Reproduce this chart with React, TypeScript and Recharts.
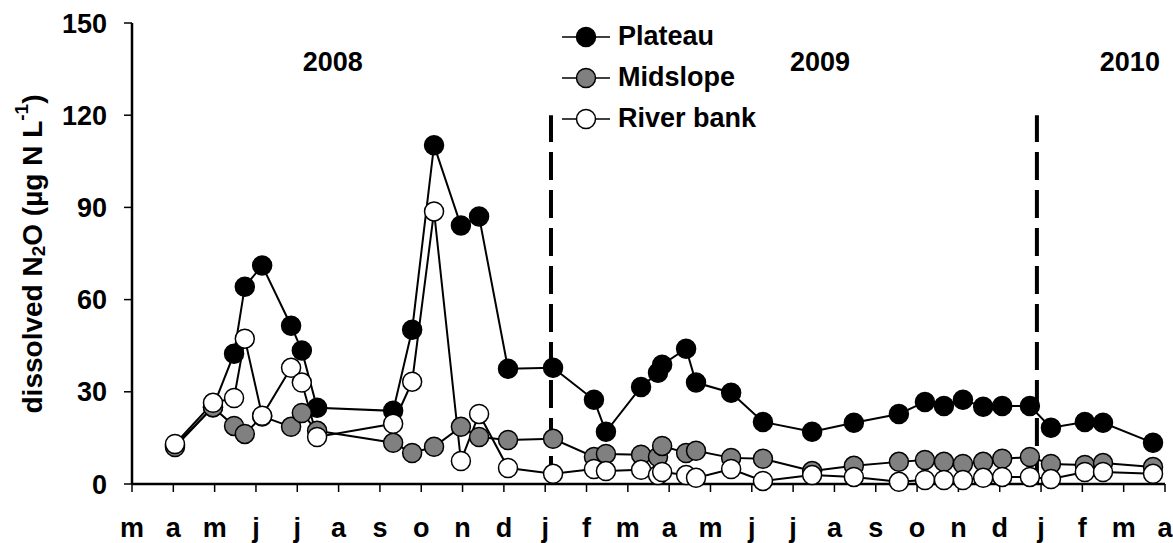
import {
  LineChart,
  Line,
  XAxis,
  YAxis,
  ReferenceLine,
  ReferenceDot,
} from "recharts"

// month labels, one per tick (mar 2008 .. apr 2010)
const MONTHS = ["m", "a", "m", "j", "j", "a", "s", "o", "n", "d", "j", "f", "m", "a", "m", "j", "j", "a", "s", "o", "n", "d", "j", "f", "m", "a"]

// sampling dates in months since 1 march 2008
const SAMPLE_MONTH = [1.04, 1.96, 2.47, 2.73, 3.15, 3.85, 4.11, 4.48, 6.32, 6.78, 7.31, 7.96, 8.4, 9.1, 10.19, 11.18, 11.47, 12.32, 12.73, 12.83, 13.41, 13.65, 14.5, 15.27, 16.46, 17.47, 18.56, 19.19, 19.65, 20.11, 20.6, 21.06, 21.73, 22.24, 23.06, 23.5, 24.71]

const PLATEAU = [12.5, 25, 42.4, 64.2, 71.1, 51.5, 43.4, 24.8, 23.8, 50.2, 110.2, 84.1, 87, 37.5, 37.8, 27.4, 17, 31.6, 36.2, 38.8, 44, 33, 29.7, 20.2, 17, 19.9, 22.8, 26.7, 25.4, 27.4, 25.1, 25.4, 25.4, 18.3, 20.2, 19.9, 13.4]
const MIDSLOPE = [12, 25, 18.9, 16.3, 22, 18.6, 23.1, 17.3, 13.4, 10.1, 12.1, 18.6, 15.3, 14.3, 14.7, 8.8, 9.8, 9.5, 8.8, 12.4, 10.1, 10.8, 8.5, 8.2, 4.2, 5.9, 7.2, 7.8, 7.2, 6.5, 7.2, 8.2, 8.8, 6.5, 6.2, 6.8, 5.5]
const RIVER_BANK = [13, 26.4, 28, 47.3, 22.2, 37.8, 33, 15.3, 19.6, 33.3, 88.7, 7.5, 22.8, 5.2, 3.3, 4.9, 4.2, 4.6, 2.9, 3.9, 2.9, 2, 4.9, 1, 2.9, 2.3, 0.7, 1.3, 1.3, 1.3, 2, 2.3, 2.3, 1.6, 3.9, 3.9, 3.3]

const Y_TICKS = [0, 30, 60, 90, 120, 150]
const YEAR_BREAKS = [10.14, 21.9]
const YEARS = ["2008", "2009", "2010"]

const data = SAMPLE_MONTH.map((m, i) => ({
  m,
  plateau: PLATEAU[i],
  midslope: MIDSLOPE[i],
  river: RIVER_BANK[i],
}))

const SERIES = [
  { key: "plateau", name: "Plateau", fill: "#000000" },
  { key: "midslope", name: "Midslope", fill: "#808080" },
  { key: "river", name: "River bank", fill: "#ffffff" },
]

const FONT = "'Liberation Sans', Arial, sans-serif"

function renderYLabel() {
  return (
    <text
      x={32}
      y={254}
      transform="rotate(-90 32 254)"
      textAnchor="middle"
      dominantBaseline="central"
      style={{ fontFamily: FONT, fontWeight: "bold", fontSize: 28, fill: "#000" }}
    >
      dissolved N<tspan fontSize={19} dy={6}>2</tspan>
      <tspan dy={-6}>O (µg N L</tspan>
      <tspan fontSize={19} dy={-11}>-1</tspan>
      <tspan dy={11}>)</tspan>
    </text>
  )
}

function LegendBox() {
  return (
    <div
      style={{
        position: "absolute",
        left: 560,
        top: 16,
        fontFamily: FONT,
        fontWeight: "bold",
        fontSize: 27,
      }}
    >
      {SERIES.map((s) => (
        <div key={s.key} style={{ display: "flex", alignItems: "center", height: 41 }}>
          <svg width={52} height={24}>
            <line x1={2} y1={12} x2={50} y2={12} stroke="#000" strokeWidth={1.5} />
            <circle cx={26} cy={12} r={9.5} fill={s.fill} stroke="#000" strokeWidth={1.5} />
          </svg>
          <span style={{ marginLeft: 6, color: "#000" }}>{s.name}</span>
        </div>
      ))}
    </div>
  )
}

export default function App() {
  return (
    <div style={{ position: "relative", width: 1173, height: 543, background: "#fff" }}>
      <style>{"body{margin:0}"}</style>
      <LineChart
        width={1173}
        height={543}
        data={data}
        margin={{ top: 23, right: 8, bottom: 0, left: 0 }}
      >
        <XAxis
          dataKey="m"
          type="number"
          domain={[0, 25]}
          ticks={MONTHS.map((_, i) => i)}
          tickFormatter={(v) => MONTHS[v]}
          interval={0}
          height={59}
          tickSize={8}
          tickMargin={26}
          axisLine={{ stroke: "#000", strokeWidth: 2.5 }}
          tickLine={{ stroke: "#000", strokeWidth: 1.5 }}
          tick={{ fill: "#000", fontSize: 27, fontWeight: "bold", fontFamily: FONT }}
        />
        <YAxis
          domain={[0, 150]}
          ticks={Y_TICKS}
          width={132}
          tickSize={8}
          tickMargin={17}
          axisLine={{ stroke: "#000", strokeWidth: 2.5 }}
          tickLine={{ stroke: "#000", strokeWidth: 1.5 }}
          tick={{ fill: "#000", fontSize: 27, fontWeight: "bold", fontFamily: FONT }}
          label={{ content: renderYLabel }}
        />
        {YEAR_BREAKS.map((x) => (
          <ReferenceLine
            key={x}
            segment={[{ x, y: 0 }, { x, y: 120 }]}
            stroke="#000"
            strokeWidth={4}
            strokeDasharray="28 10"
          />
        ))}
        {YEARS.map((y, i) => (
          <ReferenceDot
            key={y}
            x={[4.86, 16.65, 24.15][i]}
            y={137.5}
            r={0}
            fill="none"
            stroke="none"
            label={{
              value: y,
              position: "center",
              fill: "#000",
              fontSize: 27,
              fontWeight: "bold",
              fontFamily: FONT,
            }}
          />
        ))}
        {SERIES.map((s) => (
          <Line
            key={s.key}
            dataKey={s.key}
            name={s.name}
            stroke="#000"
            strokeWidth={2}
            dot={{ r: 9.5, fill: s.fill, stroke: "#000", strokeWidth: 1.5 }}
            activeDot={false}
            isAnimationActive={false}
          />
        ))}
      </LineChart>
      <LegendBox />
    </div>
  )
}
